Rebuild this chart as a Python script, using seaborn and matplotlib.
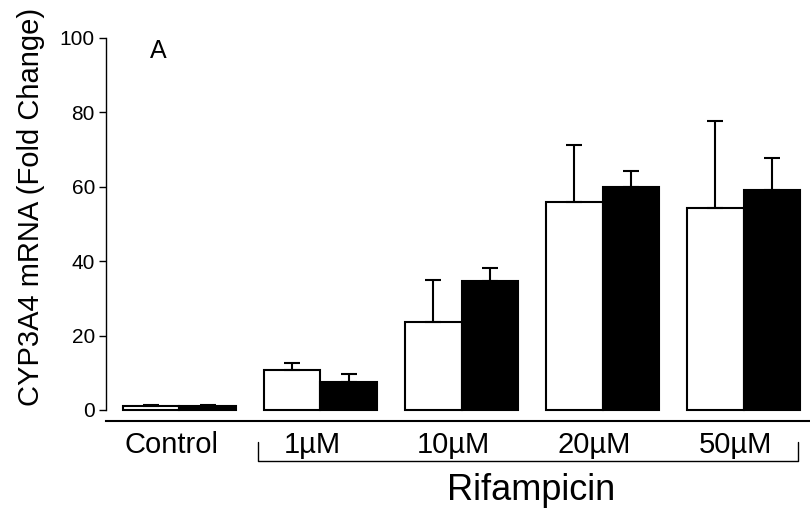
import matplotlib
matplotlib.use("Agg")
import matplotlib.pyplot as plt
import matplotlib.transforms as mtransforms
import seaborn as sns
import pandas as pd
import numpy as np

groups = ["Control", "1µM", "10µM", "20µM", "50µM"]
series = ["open", "filled"]
open_vals = [1.0, 10.8, 23.6, 56.0, 54.3]
open_err = [0.3, 1.8, 11.4, 15.2, 23.4]
filled_vals = [1.0, 7.4, 34.7, 60.0, 59.1]
filled_err = [0.3, 2.3, 3.5, 4.2, 8.6]
yticks = [0, 20, 40, 60, 80, 100]

sns.set_theme(style="white")
plt.rcParams["font.family"] = ["Liberation Sans", "DejaVu Sans"]
plt.rcParams["text.color"] = "black"
plt.rcParams["axes.labelcolor"] = "black"
plt.rcParams["xtick.color"] = "black"
plt.rcParams["ytick.color"] = "black"

df = pd.DataFrame({
    "group": groups * 2,
    "series": [series[0]] * 5 + [series[1]] * 5,
    "value": open_vals + filled_vals,
})

fig = plt.figure(figsize=(8.1, 5.14), dpi=100)
ax = fig.add_axes([106 / 810, (514 - 421) / 514, (810 - 106) / 810, (421 - 38) / 514])

sns.barplot(data=df, x="group", y="value", hue="series", order=groups,
            hue_order=series, palette=["white", "black"], errorbar=None,
            width=0.8, edgecolor="black", linewidth=1.5, ax=ax, legend=False,
            saturation=1)

for cont, vals, errs in zip(ax.containers, [open_vals, filled_vals], [open_err, filled_err]):
    xs = [p.get_x() + p.get_width() / 2 for p in cont]
    ax.errorbar(xs, vals, yerr=[np.zeros(len(errs)), errs], fmt="none",
                ecolor="black", elinewidth=1.5, capsize=6, capthick=1.5, zorder=1)

ax.set_xlim(-0.52, 4.47)
ax.set_ylim(-2.96, 100)
ax.set_yticks(yticks)
ax.set_yticklabels([str(v) for v in yticks], fontsize=15)
ax.tick_params(axis="y", direction="out", length=5, width=1, left=True, pad=3)
ax.tick_params(axis="x", length=0, pad=7)
for s in ["top", "right"]:
    ax.spines[s].set_visible(False)
ax.spines["left"].set_bounds(0, 100)
ax.spines["left"].set_linewidth(1)
ax.spines["left"].set_color("black")
ax.spines["bottom"].set_linewidth(1.5)
ax.spines["bottom"].set_color("black")
ax.set_xlabel("")
ax.set_ylabel("CYP3A4 mRNA (Fold Change)", fontsize=21)
ax.yaxis.set_label_coords(-0.087, 0.56)
ax.set_xticks(range(5))
ax.set_xticklabels(groups, fontsize=21)
shift = mtransforms.ScaledTranslation(-8 / 100, 0, fig.dpi_scale_trans)
for lbl in ax.get_xticklabels():
    lbl.set_transform(lbl.get_transform() + shift)

fig.text(150 / 810, 1 - 51 / 514, "A", fontsize=18, ha="left", va="center")

# bracket for Rifampicin
y1, y2 = 1 - 442 / 514, 1 - 461 / 514
x1, x2 = 258 / 810, 798 / 810
fig.add_artist(plt.Line2D([x1, x1, x2, x2], [y1, y2, y2, y1], color="black",
                          lw=1, transform=fig.transFigure))
fig.text(531 / 810, 1 - 490 / 514, "Rifampicin", fontsize=26, ha="center", va="center")

fig.savefig("out.png", dpi=100)
